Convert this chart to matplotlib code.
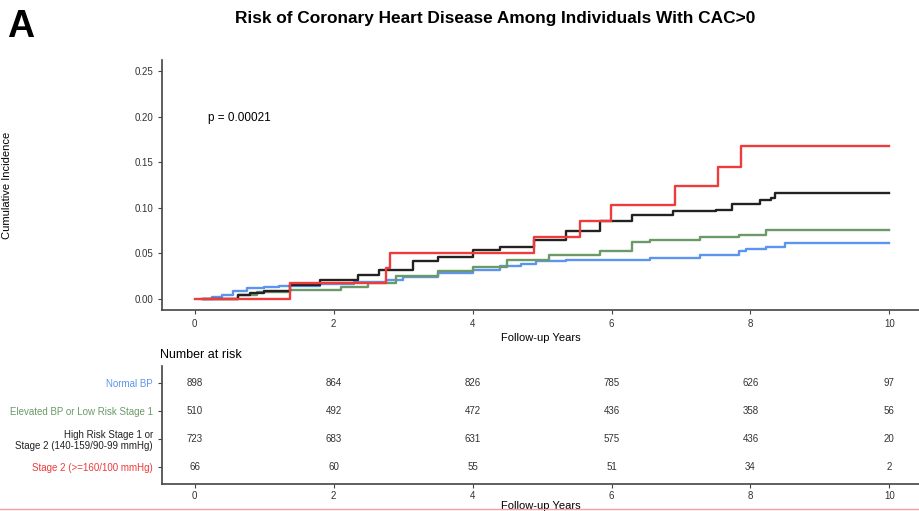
import numpy as np
import matplotlib.pyplot as plt

plt.rcParams['font.family'] = ['Liberation Sans', 'DejaVu Sans']

# Kurva insiden kumulatif, tahun dan nilai
normal_t = [0.1, 0.25, 0.4, 0.55, 0.75, 1.0, 1.22, 1.8, 2.3, 2.76, 3.0, 3.5, 4.0, 4.39, 4.7, 4.92, 5.35, 6.55, 7.27, 7.84, 7.94, 8.23, 8.49, 10.0]
normal_v = [0.0, 0.002, 0.004, 0.008, 0.012, 0.013, 0.014, 0.016, 0.018, 0.020, 0.024, 0.028, 0.032, 0.0356, 0.038, 0.041, 0.042, 0.045, 0.048, 0.052, 0.055, 0.057, 0.0617, 0.0617]

elev_t = [0.1, 0.62, 0.9, 1.37, 2.1, 2.5, 2.9, 3.5, 4.0, 4.5, 5.1, 5.83, 6.3, 6.55, 7.27, 7.84, 8.23, 10.0]
elev_v = [0.0, 0.004, 0.007, 0.010, 0.013, 0.0176, 0.025, 0.030, 0.035, 0.042, 0.048, 0.052, 0.062, 0.065, 0.068, 0.0705, 0.075, 0.075]

high_t = [0.14, 0.62, 0.8, 1.0, 1.37, 1.8, 2.0, 2.35, 2.66, 3.14, 3.5, 4.0, 4.39, 4.88, 5.35, 5.83, 6.3, 6.88, 7.5, 7.74, 8.13, 8.3, 8.35, 10.0]
high_v = [0.0, 0.004, 0.006, 0.008, 0.015, 0.020, 0.021, 0.026, 0.032, 0.041, 0.046, 0.054, 0.057, 0.065, 0.074, 0.085, 0.0925, 0.096, 0.098, 0.1045, 0.109, 0.111, 0.1167, 0.1167]

stage2_t = [0.0, 1.37, 2.76, 2.81, 4.88, 5.55, 5.99, 6.92, 7.53, 7.86, 10.0]
stage2_v = [0.0, 0.0176, 0.034, 0.0507, 0.068, 0.085, 0.1035, 0.124, 0.145, 0.168, 0.168]

# Tabel jumlah yang berisiko
tahun_tabel = [0, 2, 4, 6, 8, 10]
grup = ['Normal BP', 'Elevated BP or Low Risk Stage 1',
        'High Risk Stage 1 or\nStage 2 (140-159/90-99 mmHg)', 'Stage 2 (>=160/100 mmHg)']
risiko_normal = [898, 864, 826, 785, 626, 97]
risiko_elev = [510, 492, 472, 436, 358, 56]
risiko_high = [723, 683, 631, 575, 436, 20]
risiko_stage2 = [66, 60, 55, 51, 34, 2]

warna = ['#5b95ee', '#6a9a68', '#222222', '#ee3b3b']
axis_c = '#444444'

fig = plt.figure(figsize=(9.2, 5.11), dpi=100)

# Plot utama
ax = fig.add_axes([162/920, 1-310/511, (920-162)/920, 250/511])
kurva = [(normal_t, normal_v), (elev_t, elev_v), (high_t, high_v), (stage2_t, stage2_v)]
for (t, v), c in zip(kurva, warna):
    ax.step(t, v, where='post', color=c, lw=1.7)
ax.set_xlim(-0.47, 10.44)
ax.set_ylim(-0.0125, 0.2625)
ax.set_xticks(tahun_tabel)
ax.set_yticks([0, 0.05, 0.10, 0.15, 0.20, 0.25])
ax.set_yticklabels(['0.00', '0.05', '0.10', '0.15', '0.20', '0.25'])
for s in ['top', 'right']:
    ax.spines[s].set_visible(False)
for s in ['left', 'bottom']:
    ax.spines[s].set_color(axis_c)
    ax.spines[s].set_linewidth(1.2)
ax.tick_params(labelsize=7, color=axis_c, labelcolor='#333333', length=3, width=0.8)
ax.set_xlabel('Follow-up Years', fontsize=8, labelpad=3)
ax.set_ylabel('Cumulative Incidence', fontsize=8, labelpad=0)
ax.yaxis.set_label_coords(-0.198, 0.5)
ax.text(0.19, 0.199, 'p = 0.00021', fontsize=8.5, va='center', ha='left')

# Tabel risiko
at = fig.add_axes([162/920, 1-484/511, (920-162)/920, 118/511])
baris = [risiko_normal, risiko_elev, risiko_high, risiko_stage2]
posisi_y = [4, 3, 2, 1]
for nilai, y in zip(baris, posisi_y):
    for t, n in zip(tahun_tabel, nilai):
        at.text(t, y, str(n), ha='center', va='center', fontsize=7, color='#333333')
at.set_xlim(-0.47, 10.44)
at.set_ylim(0.4, 4.6)
at.set_xticks(tahun_tabel)
at.set_yticks(posisi_y)
for s in ['top', 'right']:
    at.spines[s].set_visible(False)
for s in ['left', 'bottom']:
    at.spines[s].set_color(axis_c)
    at.spines[s].set_linewidth(1.2)
at.tick_params(labelsize=7, color=axis_c, labelcolor='#333333', length=3, width=0.8)
at.tick_params(axis='x', pad=2)
at.set_yticklabels(grup, fontsize=7, linespacing=1.1)
for lbl, c in zip(at.get_yticklabels(), warna):
    lbl.set_color(c)
    lbl.set_multialignment('right')
at.set_xlabel('Follow-up Years', fontsize=8, labelpad=0)
at.set_title('Number at risk', fontsize=9, loc='left', pad=6, x=-0.003)

# Judul dan label panel
fig.text(0.538, 0.963, 'Risk of Coronary Heart Disease Among Individuals With CAC>0',
         ha='center', va='center', fontsize=12.4, fontweight='bold')
fig.text(0.008, 0.948, 'A', ha='left', va='center', fontsize=27, fontweight='bold')
fig.add_artist(plt.Line2D([0, 1], [1-509/511, 1-509/511], color='#f4a0a0', lw=1))

fig.savefig('out.png', dpi=100)
